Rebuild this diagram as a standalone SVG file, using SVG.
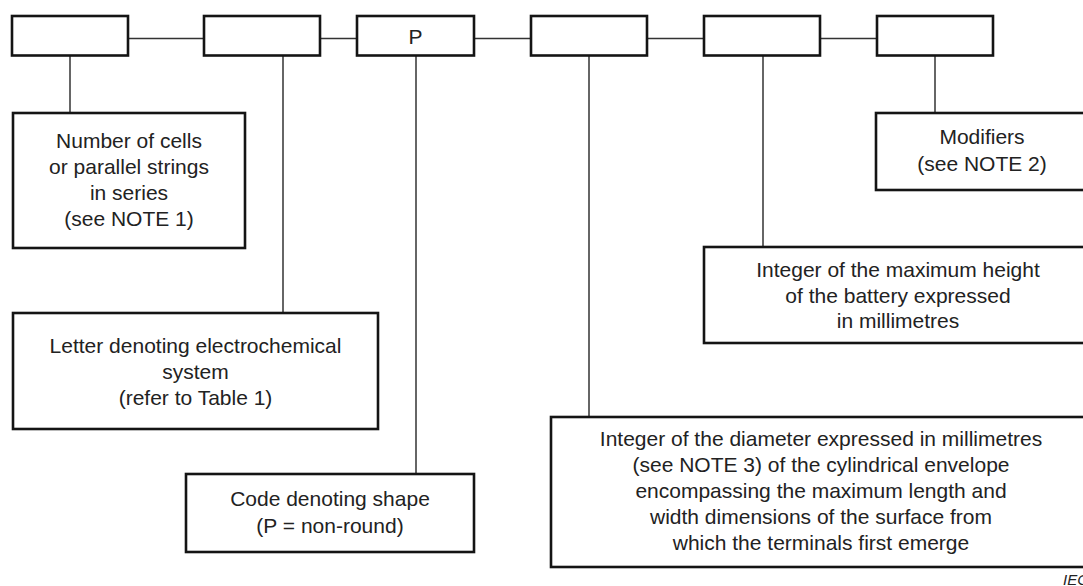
<svg xmlns="http://www.w3.org/2000/svg" width="1083" height="586" viewBox="0 0 1083 586">
<style>
.box{fill:#fff;stroke:#141414;stroke-width:2.6}
.ln{stroke:#333;stroke-width:1.5;fill:none}
.t{font-family:"Liberation Sans",Arial,sans-serif;font-size:21px;fill:#222;text-anchor:middle}
.iec{font-family:"Liberation Sans",Arial,sans-serif;font-size:15px;font-style:italic;fill:#222}
</style>
<rect width="1083" height="586" fill="#fff"/>
<g id="connectors">
<line class="ln" x1="128" y1="38.5" x2="204" y2="38.5"/>
<line class="ln" x1="320" y1="38.5" x2="357" y2="38.5"/>
<line class="ln" x1="474" y1="38.5" x2="531" y2="38.5"/>
<line class="ln" x1="647" y1="38.5" x2="704" y2="38.5"/>
<line class="ln" x1="820" y1="38.5" x2="877" y2="38.5"/>
<line class="ln" x1="70" y1="56" x2="70" y2="113"/>
<line class="ln" x1="283" y1="56" x2="283" y2="313"/>
<line class="ln" x1="416" y1="56" x2="416" y2="474"/>
<line class="ln" x1="589" y1="56" x2="589" y2="417"/>
<line class="ln" x1="763" y1="56" x2="763" y2="247"/>
<line class="ln" x1="935" y1="56" x2="935" y2="113"/>
</g>
<g id="code1"><rect class="box" x="12" y="16" width="116" height="39.5"/></g>
<g id="code2"><rect class="box" x="204" y="16" width="116" height="39.5"/></g>
<g id="code3"><rect class="box" x="357" y="16" width="117" height="39.5"/><text class="t" x="415.5" y="44">P</text></g>
<g id="code4"><rect class="box" x="531" y="16" width="116" height="39.5"/></g>
<g id="code5"><rect class="box" x="704" y="16" width="116" height="39.5"/></g>
<g id="code6"><rect class="box" x="877" y="16" width="116" height="39.5"/></g>
<g id="cells"><rect class="box" x="13" y="113" width="232" height="135"/>
<text class="t" x="129" y="148">Number of cells</text>
<text class="t" x="129" y="174">or parallel strings</text>
<text class="t" x="129" y="200">in series</text>
<text class="t" x="129" y="226">(see NOTE 1)</text></g>
<g id="electro"><rect class="box" x="13" y="313" width="365" height="116"/>
<text class="t" x="195.5" y="353">Letter denoting electrochemical</text>
<text class="t" x="195.5" y="379">system</text>
<text class="t" x="195.5" y="405">(refer to Table 1)</text></g>
<g id="shape"><rect class="box" x="186" y="474" width="288" height="78"/>
<text class="t" x="330" y="506">Code denoting shape</text>
<text class="t" x="330" y="533">(P = non-round)</text></g>
<g id="diameter"><rect class="box" x="551" y="417" width="540" height="150"/>
<text class="t" x="821" y="446">Integer of the diameter expressed in millimetres</text>
<text class="t" x="821" y="472">(see NOTE 3) of the cylindrical envelope</text>
<text class="t" x="821" y="498">encompassing the maximum length and</text>
<text class="t" x="821" y="524">width dimensions of the surface from</text>
<text class="t" x="821" y="550">which the terminals first emerge</text></g>
<g id="height"><rect class="box" x="704" y="247" width="388" height="96"/>
<text class="t" x="898" y="277">Integer of the maximum height</text>
<text class="t" x="898" y="302.5">of the battery expressed</text>
<text class="t" x="898" y="328">in millimetres</text></g>
<g id="modifiers"><rect class="box" x="876" y="113" width="212" height="77"/>
<text class="t" x="982" y="144">Modifiers</text>
<text class="t" x="982" y="171">(see NOTE 2)</text></g>
<text class="iec" x="1063" y="585">IEC</text>
</svg>
